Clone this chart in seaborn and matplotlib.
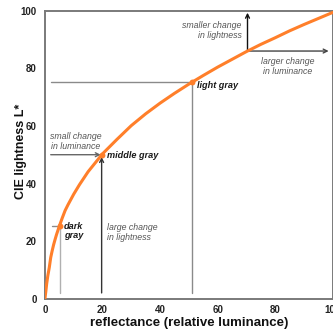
import matplotlib
matplotlib.use("Agg")
import matplotlib.pyplot as plt
import seaborn as sns
import pandas as pd

# Lightness curve: reflectance (%) vs CIE L*
reflectance = [0, 0.15, 0.3, 0.6, 1, 1.5, 2, 2.5, 3, 3.5, 4, 5, 6, 7, 8, 10, 12, 15, 20, 25,
               30, 35, 40, 45, 50, 55, 60, 65, 70, 75, 80, 85, 90, 95, 100]
lightness = [0, 1.3, 2.5, 5.2, 8.0, 10.8, 14.3, 16.6, 18.7, 20.5, 22.2, 25.2, 28.0, 30.6,
             32.6, 36.3, 39.6, 44.1, 50.3, 55.3, 60.1, 64.2, 67.9, 71.3, 74.5, 77.5, 80.4,
             83.1, 85.8, 88.3, 90.6, 93.0, 95.2, 97.3, 99.4]

# Labelled gray levels
gray_names = ["dark\ngray", "middle gray", "light gray"]
gray_refl = [5.2, 19.7, 51.2]
gray_light = [25.2, 50.0, 75.1]

# Point where the "smaller / larger change" arrows start
upper_refl = 70.4
upper_light = 86.0

ticks = [0, 20, 40, 60, 80, 100]
minor_ticks = [10, 30, 50, 70, 90]

sns.set_style("white")
plt.rcParams["font.family"] = ["Liberation Sans", "DejaVu Sans"]

fig = plt.figure(figsize=(3.33, 3.31), dpi=100)
ax = fig.add_axes([0.135, 0.0976, 0.864, 0.870])

curve = pd.DataFrame({"reflectance": reflectance, "lightness": lightness})
points = pd.DataFrame({"reflectance": gray_refl, "lightness": gray_light})

orange = "#ff7f2a"
grid_gray = "#8a8a8a"

# guide lines for the gray levels
ax.plot([gray_refl[0], gray_refl[0]], [2, gray_light[0]], color="#b0b0b0", lw=1.0, zorder=1)
ax.plot([2.3, gray_refl[0]], [gray_light[0], gray_light[0]], color=grid_gray, lw=1.0, zorder=1)
ax.plot([gray_refl[2], gray_refl[2]], [2, gray_light[2]], color=grid_gray, lw=1.0, zorder=1)
ax.plot([2.0, gray_refl[2]], [gray_light[2], gray_light[2]], color=grid_gray, lw=1.0, zorder=1)

# middle gray arrows
ax.annotate("", xy=(gray_refl[1] - 0.3, gray_light[1]), xytext=(2.0, gray_light[1]),
            arrowprops=dict(arrowstyle="->", color="#666666", lw=1.0,
                            shrinkA=0, shrinkB=0, mutation_scale=7), zorder=2)
ax.annotate("", xy=(gray_refl[1], gray_light[1] - 0.8), xytext=(gray_refl[1], 2.0),
            arrowprops=dict(arrowstyle="->", color="#333333", lw=1.0,
                            shrinkA=0, shrinkB=0, mutation_scale=7), zorder=2)

# upper arrows
ax.annotate("", xy=(upper_refl, 99.3), xytext=(upper_refl, upper_light),
            arrowprops=dict(arrowstyle="->", color="#111111", lw=1.0,
                            shrinkA=0, shrinkB=0, mutation_scale=7), zorder=2)
ax.annotate("", xy=(98.6, upper_light), xytext=(upper_refl, upper_light),
            arrowprops=dict(arrowstyle="->", color="#444444", lw=1.0,
                            shrinkA=0, shrinkB=0, mutation_scale=7), zorder=2)

sns.lineplot(data=curve, x="reflectance", y="lightness", color=orange, lw=2.2,
             ax=ax, zorder=3, estimator=None, sort=False)
sns.scatterplot(data=points, x="reflectance", y="lightness", color=orange, s=18,
                linewidth=0, ax=ax, zorder=4)

# labels
lab = dict(fontsize=6.6, fontweight="bold", fontstyle="italic", color="#1a1a1a")
note = dict(fontsize=6.3, fontstyle="italic", color="#555555", linespacing=1.15)
ax.text(gray_refl[0] + 1.4, gray_light[0] - 1.8, gray_names[0], ha="left", va="center",
        linespacing=1.05, **lab)
ax.text(gray_refl[1] + 2.0, gray_light[1] - 0.2, gray_names[1], ha="left", va="center", **lab)
ax.text(gray_refl[2] + 1.8, gray_light[2] - 1.1, gray_names[2], ha="left", va="center", **lab)

ax.text(10.8, 54.5, "small change\nin luminance", ha="center", va="center", **note)
ax.text(21.5, 23.1, "large change\nin lightness", ha="left", va="center", **note)
ax.text(68.4, 93.2, "smaller change\nin lightness", ha="right", va="center", **note)
ax.text(84.5, 80.7, "larger change\nin luminance", ha="center", va="center", **note)

ax.set_xlim(0, 100)
ax.set_ylim(0, 100)
ax.set_xticks(ticks)
ax.set_yticks(ticks)
ax.set_xticks(minor_ticks, minor=True)
ax.set_yticks(minor_ticks, minor=True)
ax.set_xticklabels([str(t) for t in ticks], fontsize=7, fontweight="bold", color="#222222")
ax.set_yticklabels([str(t) for t in ticks], fontsize=7, fontweight="bold", color="#222222")
ax.tick_params(axis="x", which="major", direction="inout", length=6, width=1.0,
               color="#333333", pad=1.5)
ax.tick_params(axis="y", which="major", direction="out", length=5, width=1.0,
               color="#333333", pad=1)
ax.tick_params(which="minor", direction="in", length=3.5, width=1.0, color="#333333")

ax.set_xlabel("reflectance (relative luminance)", fontsize=9.5, fontweight="bold",
              color="#111111", labelpad=1.5)
ax.set_ylabel("CIE lightness L*", fontsize=9.0, fontweight="bold", color="#111111")
ax.yaxis.set_label_coords(-0.062, 0.51)

for s in ax.spines.values():
    s.set_visible(True)
    s.set_color("#7a7a7a")
    s.set_linewidth(1.4)

fig.savefig("out.png", dpi=100)
